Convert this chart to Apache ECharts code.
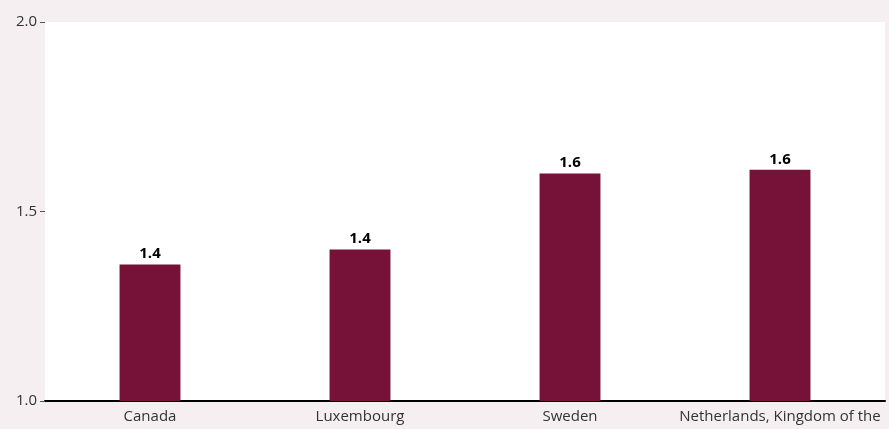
<!DOCTYPE html>
<html>
<head>
<meta charset="utf-8">
<script src="https://cdn.jsdelivr.net/npm/echarts@6/dist/echarts.min.js"></script>
<style>
html,body{margin:0;padding:0;background:#f5eff1;}
#c{width:889px;height:429px;}
</style>
</head>
<body>
<div id="c"></div>
<script>
const categories = ["Canada", "Luxembourg", "Sweden", "Netherlands, Kingdom of the"];
const values = [1.36, 1.40, 1.60, 1.61];
const yTicks = [1.0, 1.5, 2.0];

const chart = echarts.init(document.getElementById('c'));
chart.setOption({
  backgroundColor: '#f5eff1',
  animation: false,
  grid: { left: 45, right: 4, top: 22, bottom: 28, show: true, backgroundColor: '#ffffff', borderWidth: 0 },
  xAxis: {
    type: 'category',
    data: categories,
    axisLine: { show: true, lineStyle: { color: '#000000', width: 2 } },
    axisTick: { show: false },
    axisLabel: { color: '#333333', fontSize: 15, fontFamily: 'Open Sans', margin: 8, interval: 0 }
  },
  yAxis: {
    type: 'value',
    min: yTicks[0], max: yTicks[yTicks.length - 1], interval: 0.5,
    axisLine: { show: false },
    axisTick: { show: true, length: 5, lineStyle: { color: '#555555' } },
    splitLine: { show: false },
    axisLabel: { color: '#333333', fontSize: 15, fontFamily: 'Open Sans', margin: 8,
      formatter: v => v.toFixed(1) }
  },
  series: [{
    type: 'bar',
    data: values,
    barWidth: '29%',
    itemStyle: { color: '#761238' },
    label: { show: true, position: 'top', distance: 3, color: '#000000', fontWeight: 'bold',
      fontSize: 15, fontFamily: 'Open Sans', formatter: p => p.value.toFixed(1) }
  }]
});
</script>
</body>
</html>
